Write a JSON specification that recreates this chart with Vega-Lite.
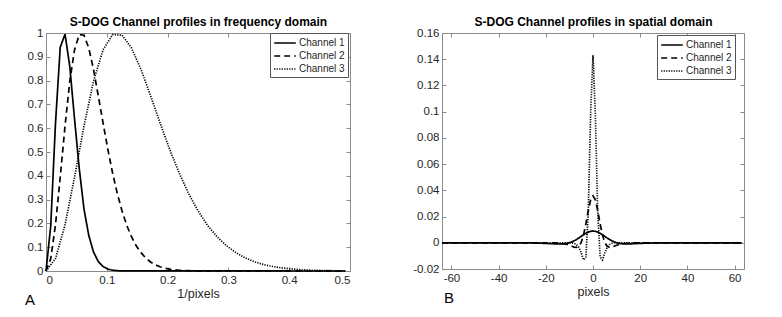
{
  "$schema": "https://vega.github.io/schema/vega-lite/v6.json",
  "background": "white",
  "padding": {"left": 24, "top": 15, "right": 0, "bottom": 0},
  "spacing": 61,
  "config": {
    "font": "Liberation Sans",
    "view": {"stroke": "#8a8a8a", "strokeWidth": 1},
    "axis": {
      "labelFont": "Liberation Sans",
      "labelFontSize": 11.5,
      "labelColor": "#262626",
      "tickColor": "#8a8a8a",
      "tickSize": -4,
      "labelPadding": 7,
      "domain": false,
      "grid": false,
      "titleFont": "Liberation Sans",
      "titleFontSize": 12.5,
      "titleFontWeight": "normal",
      "titleColor": "#262626"
    },
    "legend": {
      "labelFont": "Liberation Sans",
      "labelFontSize": 10,
      "labelColor": "#262626",
      "strokeColor": "#555555",
      "fillColor": "white",
      "padding": 3,
      "symbolType": "M-1.8,0H1.8",
      "symbolSize": 144,
      "symbolOffset": 5,
      "symbolStrokeWidth": 1.6,
      "symbolStrokeColor": "black",
      "symbolFillColor": "transparent",
      "rowPadding": 1,
      "labelOffset": 7,
      "cornerRadius": 0
    }
  },
  "datasets": {
    "freq": [
      {"f": 0, "v": 0, "c": "Channel 1"},
      {"f": 0.0078, "v": 0.19, "c": "Channel 1"},
      {"f": 0.0156, "v": 0.62, "c": "Channel 1"},
      {"f": 0.0234, "v": 0.94, "c": "Channel 1"},
      {"f": 0.0313, "v": 0.995, "c": "Channel 1"},
      {"f": 0.0391, "v": 0.86, "c": "Channel 1"},
      {"f": 0.0469, "v": 0.64, "c": "Channel 1"},
      {"f": 0.0547, "v": 0.43, "c": "Channel 1"},
      {"f": 0.0625, "v": 0.26, "c": "Channel 1"},
      {"f": 0.0703, "v": 0.15, "c": "Channel 1"},
      {"f": 0.0781, "v": 0.08, "c": "Channel 1"},
      {"f": 0.0859, "v": 0.04, "c": "Channel 1"},
      {"f": 0.0938, "v": 0.019, "c": "Channel 1"},
      {"f": 0.1016, "v": 0.008, "c": "Channel 1"},
      {"f": 0.1094, "v": 0.0035, "c": "Channel 1"},
      {"f": 0.1172, "v": 0.0013, "c": "Channel 1"},
      {"f": 0.125, "v": 0.0004, "c": "Channel 1"},
      {"f": 0.4922, "v": 0, "c": "Channel 1"},

      {"f": 0, "v": 0, "c": "Channel 2"},
      {"f": 0.0078, "v": 0.052, "c": "Channel 2"},
      {"f": 0.0156, "v": 0.194, "c": "Channel 2"},
      {"f": 0.0234, "v": 0.394, "c": "Channel 2"},
      {"f": 0.0313, "v": 0.609, "c": "Channel 2"},
      {"f": 0.0391, "v": 0.797, "c": "Channel 2"},
      {"f": 0.0469, "v": 0.929, "c": "Channel 2"},
      {"f": 0.0547, "v": 0.993, "c": "Channel 2"},
      {"f": 0.0625, "v": 0.991, "c": "Channel 2"},
      {"f": 0.0703, "v": 0.937, "c": "Channel 2"},
      {"f": 0.0781, "v": 0.847, "c": "Channel 2"},
      {"f": 0.0859, "v": 0.737, "c": "Channel 2"},
      {"f": 0.0938, "v": 0.623, "c": "Channel 2"},
      {"f": 0.1016, "v": 0.513, "c": "Channel 2"},
      {"f": 0.1094, "v": 0.413, "c": "Channel 2"},
      {"f": 0.1172, "v": 0.326, "c": "Channel 2"},
      {"f": 0.125, "v": 0.253, "c": "Channel 2"},
      {"f": 0.1328, "v": 0.192, "c": "Channel 2"},
      {"f": 0.1406, "v": 0.144, "c": "Channel 2"},
      {"f": 0.1484, "v": 0.106, "c": "Channel 2"},
      {"f": 0.1563, "v": 0.077, "c": "Channel 2"},
      {"f": 0.1641, "v": 0.0545, "c": "Channel 2"},
      {"f": 0.1719, "v": 0.038, "c": "Channel 2"},
      {"f": 0.1797, "v": 0.026, "c": "Channel 2"},
      {"f": 0.1875, "v": 0.018, "c": "Channel 2"},
      {"f": 0.1953, "v": 0.012, "c": "Channel 2"},
      {"f": 0.2031, "v": 0.008, "c": "Channel 2"},
      {"f": 0.2109, "v": 0.005, "c": "Channel 2"},
      {"f": 0.2188, "v": 0.003, "c": "Channel 2"},
      {"f": 0.2266, "v": 0.002, "c": "Channel 2"},
      {"f": 0.2344, "v": 0.0012, "c": "Channel 2"},
      {"f": 0.2422, "v": 0.0007, "c": "Channel 2"},
      {"f": 0.25, "v": 0.0004, "c": "Channel 2"},
      {"f": 0.4922, "v": 0, "c": "Channel 2"},

      {"f": 0, "v": 0, "c": "Channel 3"},
      {"f": 0.0156, "v": 0.052, "c": "Channel 3"},
      {"f": 0.0313, "v": 0.194, "c": "Channel 3"},
      {"f": 0.0469, "v": 0.394, "c": "Channel 3"},
      {"f": 0.0625, "v": 0.609, "c": "Channel 3"},
      {"f": 0.0781, "v": 0.797, "c": "Channel 3"},
      {"f": 0.0938, "v": 0.929, "c": "Channel 3"},
      {"f": 0.1094, "v": 0.993, "c": "Channel 3"},
      {"f": 0.125, "v": 0.991, "c": "Channel 3"},
      {"f": 0.1406, "v": 0.937, "c": "Channel 3"},
      {"f": 0.1563, "v": 0.847, "c": "Channel 3"},
      {"f": 0.1719, "v": 0.737, "c": "Channel 3"},
      {"f": 0.1875, "v": 0.623, "c": "Channel 3"},
      {"f": 0.2031, "v": 0.513, "c": "Channel 3"},
      {"f": 0.2188, "v": 0.413, "c": "Channel 3"},
      {"f": 0.2344, "v": 0.326, "c": "Channel 3"},
      {"f": 0.25, "v": 0.253, "c": "Channel 3"},
      {"f": 0.2656, "v": 0.192, "c": "Channel 3"},
      {"f": 0.2813, "v": 0.144, "c": "Channel 3"},
      {"f": 0.2969, "v": 0.106, "c": "Channel 3"},
      {"f": 0.3125, "v": 0.077, "c": "Channel 3"},
      {"f": 0.3281, "v": 0.0545, "c": "Channel 3"},
      {"f": 0.3438, "v": 0.038, "c": "Channel 3"},
      {"f": 0.3594, "v": 0.026, "c": "Channel 3"},
      {"f": 0.375, "v": 0.018, "c": "Channel 3"},
      {"f": 0.3906, "v": 0.012, "c": "Channel 3"},
      {"f": 0.4063, "v": 0.008, "c": "Channel 3"},
      {"f": 0.4219, "v": 0.005, "c": "Channel 3"},
      {"f": 0.4375, "v": 0.003, "c": "Channel 3"},
      {"f": 0.4531, "v": 0.002, "c": "Channel 3"},
      {"f": 0.4688, "v": 0.0012, "c": "Channel 3"},
      {"f": 0.4844, "v": 0.0007, "c": "Channel 3"},
      {"f": 0.4922, "v": 0.0006, "c": "Channel 3"}
    ],
    "space": [
      {"x": -64, "y": 0, "c": "Channel 1"},
      {"x": -36, "y": 0, "c": "Channel 1"},
      {"x": -32, "y": -0.00003, "c": "Channel 1"},
      {"x": -30, "y": -0.00005, "c": "Channel 1"},
      {"x": -28, "y": -0.00008, "c": "Channel 1"},
      {"x": -26, "y": -0.00014, "c": "Channel 1"},
      {"x": -24, "y": -0.00022, "c": "Channel 1"},
      {"x": -22, "y": -0.00033, "c": "Channel 1"},
      {"x": -20, "y": -0.00048, "c": "Channel 1"},
      {"x": -18, "y": -0.00065, "c": "Channel 1"},
      {"x": -16, "y": -0.00082, "c": "Channel 1"},
      {"x": -15, "y": -0.00087, "c": "Channel 1"},
      {"x": -14, "y": -0.00088, "c": "Channel 1"},
      {"x": -13, "y": -0.00083, "c": "Channel 1"},
      {"x": -12, "y": -0.00068, "c": "Channel 1"},
      {"x": -11, "y": -0.0004, "c": "Channel 1"},
      {"x": -10, "y": 0.00005, "c": "Channel 1"},
      {"x": -9, "y": 0.00068, "c": "Channel 1"},
      {"x": -8, "y": 0.0015, "c": "Channel 1"},
      {"x": -7, "y": 0.00251, "c": "Channel 1"},
      {"x": -6, "y": 0.00367, "c": "Channel 1"},
      {"x": -5, "y": 0.00491, "c": "Channel 1"},
      {"x": -4, "y": 0.00614, "c": "Channel 1"},
      {"x": -3, "y": 0.00726, "c": "Channel 1"},
      {"x": -2, "y": 0.00816, "c": "Channel 1"},
      {"x": -1, "y": 0.00874, "c": "Channel 1"},
      {"x": 0, "y": 0.00894, "c": "Channel 1"},
      {"x": 1, "y": 0.00874, "c": "Channel 1"},
      {"x": 2, "y": 0.00816, "c": "Channel 1"},
      {"x": 3, "y": 0.00726, "c": "Channel 1"},
      {"x": 4, "y": 0.00614, "c": "Channel 1"},
      {"x": 5, "y": 0.00491, "c": "Channel 1"},
      {"x": 6, "y": 0.00367, "c": "Channel 1"},
      {"x": 7, "y": 0.00251, "c": "Channel 1"},
      {"x": 8, "y": 0.0015, "c": "Channel 1"},
      {"x": 9, "y": 0.00068, "c": "Channel 1"},
      {"x": 10, "y": 0.00005, "c": "Channel 1"},
      {"x": 11, "y": -0.0004, "c": "Channel 1"},
      {"x": 12, "y": -0.00068, "c": "Channel 1"},
      {"x": 13, "y": -0.00083, "c": "Channel 1"},
      {"x": 14, "y": -0.00088, "c": "Channel 1"},
      {"x": 15, "y": -0.00087, "c": "Channel 1"},
      {"x": 16, "y": -0.00082, "c": "Channel 1"},
      {"x": 18, "y": -0.00065, "c": "Channel 1"},
      {"x": 20, "y": -0.00048, "c": "Channel 1"},
      {"x": 22, "y": -0.00033, "c": "Channel 1"},
      {"x": 24, "y": -0.00022, "c": "Channel 1"},
      {"x": 26, "y": -0.00014, "c": "Channel 1"},
      {"x": 28, "y": -0.00008, "c": "Channel 1"},
      {"x": 30, "y": -0.00005, "c": "Channel 1"},
      {"x": 32, "y": -0.00003, "c": "Channel 1"},
      {"x": 36, "y": 0, "c": "Channel 1"},
      {"x": 63, "y": 0, "c": "Channel 1"},

      {"x": -64, "y": 0, "c": "Channel 2"},
      {"x": -20, "y": 0, "c": "Channel 2"},
      {"x": -18, "y": -0.00003, "c": "Channel 2"},
      {"x": -16, "y": -0.00011, "c": "Channel 2"},
      {"x": -15, "y": -0.0002, "c": "Channel 2"},
      {"x": -14, "y": -0.00034, "c": "Channel 2"},
      {"x": -13, "y": -0.00055, "c": "Channel 2"},
      {"x": -12, "y": -0.00087, "c": "Channel 2"},
      {"x": -11, "y": -0.0013, "c": "Channel 2"},
      {"x": -10, "y": -0.0019, "c": "Channel 2"},
      {"x": -9, "y": -0.0026, "c": "Channel 2"},
      {"x": -8, "y": -0.0033, "c": "Channel 2"},
      {"x": -7, "y": -0.0035, "c": "Channel 2"},
      {"x": -6, "y": -0.0027, "c": "Channel 2"},
      {"x": -5, "y": 0.0002, "c": "Channel 2"},
      {"x": -4, "y": 0.006, "c": "Channel 2"},
      {"x": -3, "y": 0.0147, "c": "Channel 2"},
      {"x": -2, "y": 0.0246, "c": "Channel 2"},
      {"x": -1, "y": 0.0327, "c": "Channel 2"},
      {"x": 0, "y": 0.0358, "c": "Channel 2"},
      {"x": 1, "y": 0.0327, "c": "Channel 2"},
      {"x": 2, "y": 0.0246, "c": "Channel 2"},
      {"x": 3, "y": 0.0147, "c": "Channel 2"},
      {"x": 4, "y": 0.006, "c": "Channel 2"},
      {"x": 5, "y": 0.0002, "c": "Channel 2"},
      {"x": 6, "y": -0.0027, "c": "Channel 2"},
      {"x": 7, "y": -0.0035, "c": "Channel 2"},
      {"x": 8, "y": -0.0033, "c": "Channel 2"},
      {"x": 9, "y": -0.0026, "c": "Channel 2"},
      {"x": 10, "y": -0.0019, "c": "Channel 2"},
      {"x": 11, "y": -0.0013, "c": "Channel 2"},
      {"x": 12, "y": -0.00087, "c": "Channel 2"},
      {"x": 13, "y": -0.00055, "c": "Channel 2"},
      {"x": 14, "y": -0.00034, "c": "Channel 2"},
      {"x": 15, "y": -0.0002, "c": "Channel 2"},
      {"x": 16, "y": -0.00011, "c": "Channel 2"},
      {"x": 18, "y": -0.00003, "c": "Channel 2"},
      {"x": 20, "y": 0, "c": "Channel 2"},
      {"x": 63, "y": 0, "c": "Channel 2"},

      {"x": -64, "y": 0, "c": "Channel 3"},
      {"x": -10, "y": 0, "c": "Channel 3"},
      {"x": -9, "y": -0.0001, "c": "Channel 3"},
      {"x": -8, "y": -0.00046, "c": "Channel 3"},
      {"x": -7, "y": -0.00136, "c": "Channel 3"},
      {"x": -6, "y": -0.0035, "c": "Channel 3"},
      {"x": -5, "y": -0.0076, "c": "Channel 3"},
      {"x": -4, "y": -0.0131, "c": "Channel 3"},
      {"x": -3, "y": -0.0108, "c": "Channel 3"},
      {"x": -2, "y": 0.024, "c": "Channel 3"},
      {"x": -1, "y": 0.0983, "c": "Channel 3"},
      {"x": 0, "y": 0.143, "c": "Channel 3"},
      {"x": 1, "y": 0.0983, "c": "Channel 3"},
      {"x": 2, "y": 0.024, "c": "Channel 3"},
      {"x": 3, "y": -0.0108, "c": "Channel 3"},
      {"x": 4, "y": -0.0131, "c": "Channel 3"},
      {"x": 5, "y": -0.0076, "c": "Channel 3"},
      {"x": 6, "y": -0.0035, "c": "Channel 3"},
      {"x": 7, "y": -0.00136, "c": "Channel 3"},
      {"x": 8, "y": -0.00046, "c": "Channel 3"},
      {"x": 9, "y": -0.0001, "c": "Channel 3"},
      {"x": 10, "y": 0, "c": "Channel 3"},
      {"x": 63, "y": 0, "c": "Channel 3"}
    ]
  },
  "resolve": {
    "scale": {"x": "independent", "y": "independent", "strokeDash": "independent"},
    "legend": {"strokeDash": "independent"}
  },
  "hconcat": [
    {
      "width": 304,
      "height": 238,
      "data": {"name": "freq"},
      "title": {"text": "A", "orient": "bottom", "anchor": "start", "frame": "bounds", "fontSize": 15, "fontWeight": "normal", "font": "Liberation Sans", "color": "black", "offset": -7, "dx": -2},
      "layer": [
        {
          "mark": {"type": "line", "color": "black", "strokeWidth": 1.7},
          "encoding": {
            "x": {"field": "f", "type": "quantitative", "scale": {"domain": [0, 0.5], "nice": false, "zero": false},
                  "axis": {"title": "1/pixels", "values": [0, 0.1, 0.2, 0.3, 0.4, 0.5], "format": "~f", "titlePadding": 2}},
            "y": {"field": "v", "type": "quantitative", "scale": {"domain": [0, 1], "nice": false},
                  "axis": {"title": null, "values": [0, 0.1, 0.2, 0.3, 0.4, 0.5, 0.6, 0.7, 0.8, 0.9, 1], "format": "~f"}},
            "strokeDash": {"field": "c", "type": "nominal",
                  "scale": {"domain": ["Channel 1", "Channel 2", "Channel 3"], "range": [[1, 0], [6, 4], [1.2, 1.3]]},
                  "legend": {"title": null, "orient": "none", "legendX": 224, "legendY": 0}}
          }
        },
        {
          "mark": {"type": "line", "opacity": 0},
          "encoding": {
            "x": {"field": "f", "type": "quantitative", "scale": {"domain": [0, 0.5], "nice": false, "zero": false},
                  "axis": {"orient": "top", "labels": false, "title": "S-DOG Channel profiles in frequency domain", "titleFontWeight": "bold", "titleFontSize": 12, "titleColor": "black", "titlePadding": 4, "values": [0, 0.1, 0.2, 0.3, 0.4, 0.5]}},
            "y": {"field": "v", "type": "quantitative", "scale": {"domain": [0, 1], "nice": false},
                  "axis": {"orient": "right", "labels": false, "title": null, "values": [0, 0.1, 0.2, 0.3, 0.4, 0.5, 0.6, 0.7, 0.8, 0.9, 1]}},
            "detail": {"field": "c", "type": "nominal"}
          }
        }
      ],
      "resolve": {"axis": {"x": "independent", "y": "independent"}}
    },
    {
      "width": 302,
      "height": 236,
      "data": {"name": "space"},
      "title": {"text": "B", "orient": "bottom", "anchor": "start", "frame": "group", "fontSize": 15, "fontWeight": "normal", "font": "Liberation Sans", "color": "black", "offset": -7, "dx": 2},
      "layer": [
        {
          "mark": {"type": "line", "color": "black", "strokeWidth": 1.7},
          "encoding": {
            "x": {"field": "x", "type": "quantitative", "scale": {"domain": [-64, 64], "nice": false, "zero": false},
                  "axis": {"title": "pixels", "values": [-60, -40, -20, 0, 20, 40, 60], "format": "~f", "labelExpr": "replace(datum.label, '−', '-')", "titlePadding": 2}},
            "y": {"field": "y", "type": "quantitative", "scale": {"domain": [-0.02, 0.16], "nice": false, "zero": false},
                  "axis": {"title": null, "values": [-0.02, 0, 0.02, 0.04, 0.06, 0.08, 0.1, 0.12, 0.14, 0.16], "format": "~f", "labelExpr": "replace(datum.label, '−', '-')"}},
            "strokeDash": {"field": "c", "type": "nominal",
                  "scale": {"domain": ["Channel 1", "Channel 2", "Channel 3"], "range": [[1, 0], [6, 4], [1.2, 1.3]]},
                  "legend": {"title": null, "orient": "none", "legendX": 215, "legendY": 2}}
          }
        },
        {
          "mark": {"type": "line", "opacity": 0},
          "encoding": {
            "x": {"field": "x", "type": "quantitative", "scale": {"domain": [-64, 64], "nice": false, "zero": false},
                  "axis": {"orient": "top", "labels": false, "title": "S-DOG Channel profiles in spatial domain", "titleFontWeight": "bold", "titleFontSize": 12, "titleColor": "black", "titlePadding": 4, "values": [-60, -40, -20, 0, 20, 40, 60]}},
            "y": {"field": "y", "type": "quantitative", "scale": {"domain": [-0.02, 0.16], "nice": false, "zero": false},
                  "axis": {"orient": "right", "labels": false, "title": null, "values": [-0.02, 0, 0.02, 0.04, 0.06, 0.08, 0.1, 0.12, 0.14, 0.16]}},
            "detail": {"field": "c", "type": "nominal"}
          }
        }
      ],
      "resolve": {"axis": {"x": "independent", "y": "independent"}}
    }
  ]
}
